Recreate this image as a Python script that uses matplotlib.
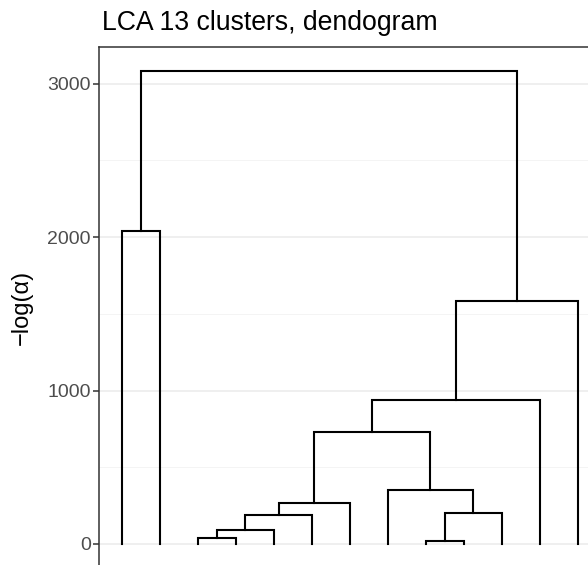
import matplotlib
matplotlib.use("Agg")
import matplotlib.pyplot as plt
from matplotlib.ticker import MultipleLocator

plt.rcParams['font.family'] = ['Liberation Sans', 'DejaVu Sans']

# leaves 0..12, merges in scipy-linkage style (new clusters numbered 13, 14, ...)
n_leaves = 13
merge_a = [8, 2, 14, 15, 13, 16, 7, 18, 20, 21, 0, 23]
merge_b = [9, 3, 4, 5, 10, 6, 17, 19, 11, 12, 1, 22]
merge_h = [17, 41, 91, 191, 202, 270, 354, 728, 937, 1585, 2041, 3085]
yticks = [0, 1000, 2000, 3000]
title = "LCA 13 clusters, dendogram"
ylabel = "\u2212log(\u03b1)"

W, H = 588, 565
fig = plt.figure(figsize=(W / 100, H / 100), dpi=100)
# panel extends slightly beyond the image on right and bottom (as in reference)
left, right, top, bottom = 99, 600.5, 47, 567.6
ax = fig.add_axes([left / W, 1 - bottom / H, (right - left) / W, (bottom - top) / H])

xpos = {i: i + 1 for i in range(n_leaves)}
ypos = {i: 0.0 for i in range(n_leaves)}
for k, (a, b, h) in enumerate(zip(merge_a, merge_b, merge_h)):
    node = n_leaves + k
    xa, xb = xpos[a], xpos[b]
    ax.plot([xa, xa, xb, xb], [ypos[a], h, h, ypos[b]], color='black', lw=1.5,
            solid_joinstyle='miter', solid_capstyle='projecting', zorder=3)
    xpos[node] = (xa + xb) / 2
    ypos[node] = h

ymax = max(merge_h)
ax.set_xlim(0.4, n_leaves + 0.6)
ax.set_ylim(-0.05 * ymax, ymax * 1.05)
ax.set_yticks(yticks)
ax.yaxis.set_minor_locator(MultipleLocator(500))
ax.set_xticks([])
ax.grid(True, which='major', axis='y', color='#EBEBEB', lw=1.1, zorder=0)
ax.grid(True, which='minor', axis='y', color='#F2F2F2', lw=0.6, zorder=0)
ax.set_axisbelow(True)
for s in ax.spines.values():
    s.set_color('#333333')
    s.set_linewidth(1.1)
ax.tick_params(axis='y', which='major', length=4, width=1.1, color='#333333',
               labelcolor='#4D4D4D', labelsize=14.0, pad=2)
ax.tick_params(axis='y', which='minor', length=0)
fig.text(22 / W, 1 - 307.5 / H, ylabel, fontsize=17, rotation=90,
         ha='center', va='center', color='black')
fig.text(102.5 / W, 1 - 30.5 / H, title, fontsize=19.2, ha='left', va='baseline')

fig.savefig("out.png", dpi=100)
